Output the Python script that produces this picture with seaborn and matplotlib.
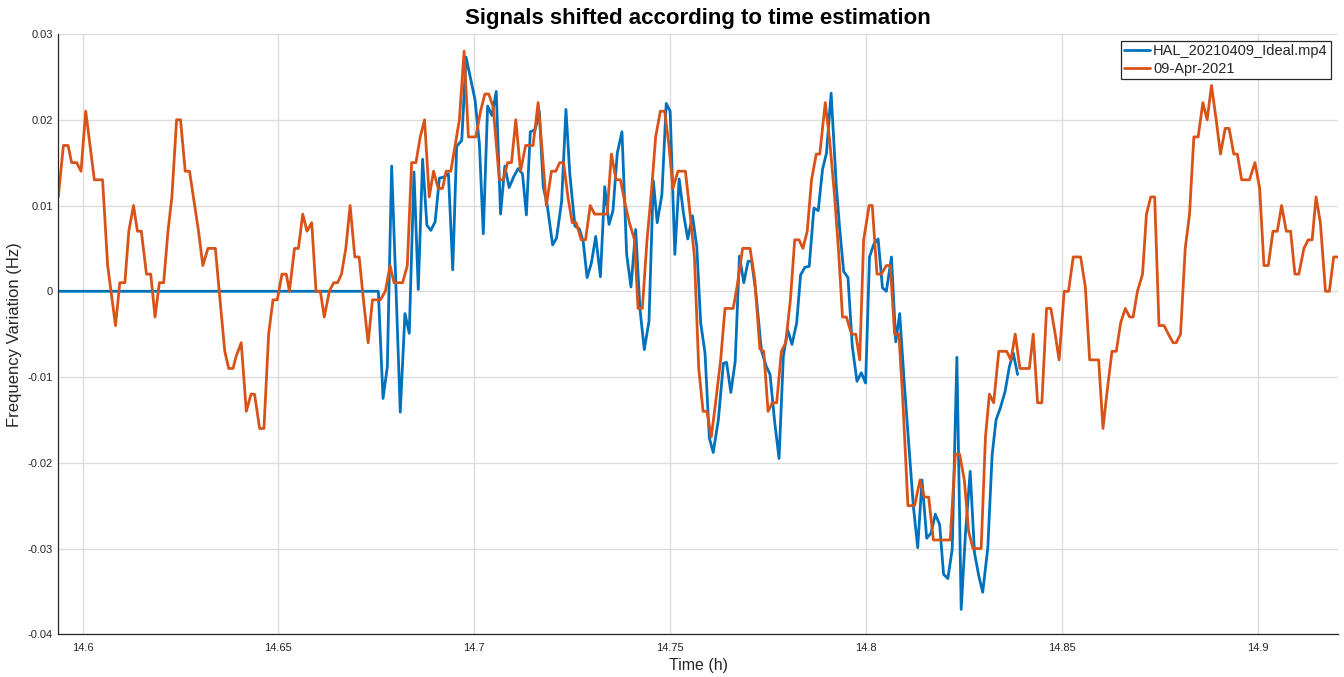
import matplotlib
matplotlib.use("Agg")
import matplotlib.pyplot as plt
import seaborn as sns

# reference signal (orange), time in hours, frequency variation in Hz
orange_t = [14.5938, 14.5951, 14.5963, 14.5972, 14.5985, 14.5996, 14.6008, 14.6030, 14.6051, 14.6064,
            14.6084, 14.6095, 14.6108, 14.6118, 14.6130, 14.6140, 14.6150, 14.6163, 14.6174, 14.6185,
            14.6196, 14.6207, 14.6218, 14.6228, 14.6240, 14.6250, 14.6262, 14.6273, 14.6286, 14.6296,
            14.6307, 14.6320, 14.6339, 14.6350, 14.6363, 14.6373, 14.6384, 14.6392, 14.6405, 14.6418,
            14.6430, 14.6439, 14.6452, 14.6463, 14.6475, 14.6486, 14.6497, 14.6509, 14.6520, 14.6528,
            14.6541, 14.6551, 14.6562, 14.6573, 14.6585, 14.6596, 14.6607, 14.6617, 14.6630, 14.6641,
            14.6651, 14.6661, 14.6672, 14.6683, 14.6695, 14.6706, 14.6717, 14.6729, 14.6740,
            14.6760, 14.6773, 14.6785, 14.6795, 14.6817, 14.6829, 14.6840, 14.6851, 14.6862, 14.6873,
            14.6885, 14.6896, 14.6908, 14.6919, 14.6928, 14.6940, 14.6951, 14.6962, 14.6974, 14.6985,
            14.7004, 14.7016, 14.7027, 14.7037, 14.7048, 14.7064, 14.7074, 14.7085, 14.7095, 14.7106,
            14.7118, 14.7131, 14.7150,
            14.7163, 14.7174, 14.7184, 14.7197, 14.7208, 14.7218, 14.7228, 14.7239, 14.7250, 14.7260,
            14.7273, 14.7284, 14.7296, 14.7307, 14.7339, 14.7350, 14.7362, 14.7373, 14.7386, 14.7396,
            14.7409, 14.7418, 14.7429, 14.7441, 14.7452, 14.7463, 14.7475, 14.7486, 14.7497, 14.7507,
            14.7520, 14.7539, 14.7551, 14.7562, 14.7573,
            14.7584, 14.7594, 14.7605, 14.7616, 14.7629, 14.7640, 14.7661, 14.7671, 14.7685, 14.7704,
            14.7716, 14.7729, 14.7739, 14.7750, 14.7761, 14.7772, 14.7784, 14.7795, 14.7807, 14.7818,
            14.7829, 14.7839, 14.7850, 14.7861, 14.7873, 14.7882, 14.7896, 14.7907, 14.7920, 14.7931,
            14.7940, 14.7950, 14.7963, 14.7974, 14.7984,
            14.7994, 14.8008, 14.8016, 14.8028, 14.8039, 14.8052, 14.8062, 14.8073, 14.8084, 14.8094,
            14.8107, 14.8124, 14.8138, 14.8149, 14.8160, 14.8172, 14.8215, 14.8228, 14.8239, 14.8251,
            14.8262, 14.8273, 14.8294, 14.8305, 14.8315, 14.8326, 14.8339,
            14.8359, 14.8370, 14.8381, 14.8393, 14.8417, 14.8427, 14.8438, 14.8449, 14.8461, 14.8472,
            14.8483, 14.8493, 14.8506, 14.8517, 14.8529, 14.8548, 14.8560, 14.8571, 14.8594, 14.8605,
            14.8616, 14.8628, 14.8639, 14.8650, 14.8662, 14.8673, 14.8682, 14.8693, 14.8706, 14.8716,
            14.8727, 14.8737, 14.8748, 14.8761, 14.8772, 14.8784, 14.8792, 14.8803, 14.8815, 14.8826,
            14.8837, 14.8848, 14.8860, 14.8871, 14.8882, 14.8894, 14.8905, 14.8917, 14.8927, 14.8939,
            14.8948, 14.8959, 14.8979, 14.8993, 14.9005, 14.9016, 14.9027, 14.9039, 14.9050, 14.9061,
            14.9073, 14.9084, 14.9095, 14.9105, 14.9118, 14.9129, 14.9139, 14.9149, 14.9160, 14.9173,
            14.9183, 14.9194, 14.9205]
orange_f = [0.011, 0.017, 0.017, 0.015, 0.015, 0.014, 0.021, 0.013, 0.013, 0.003,
            -0.004, 0.001, 0.001, 0.007, 0.010, 0.007, 0.007, 0.002, 0.002, -0.003,
            0.001, 0.001, 0.007, 0.011, 0.020, 0.020, 0.014, 0.014, 0.010, 0.007,
            0.003, 0.005, 0.005, -0.0006, -0.007, -0.009, -0.009, -0.0076, -0.006, -0.014,
            -0.012, -0.012, -0.016, -0.016, -0.005, -0.001, -0.001, 0.002, 0.002, 0.0,
            0.005, 0.005, 0.009, 0.007, 0.008, 0.0, 0.0, -0.003, 0.0, 0.001,
            0.001, 0.002, 0.005, 0.010, 0.004, 0.004, -0.001, -0.006, -0.001,
            -0.001, 0.0, 0.003, 0.001, 0.001, 0.003, 0.015, 0.015, 0.018, 0.020,
            0.011, 0.014, 0.012, 0.012, 0.014, 0.014, 0.017, 0.020, 0.028, 0.018,
            0.018, 0.021, 0.023, 0.023, 0.0215, 0.013, 0.013, 0.015, 0.015, 0.020,
            0.014, 0.017, 0.017,
            0.022, 0.016, 0.010, 0.014, 0.014, 0.015, 0.015, 0.011, 0.008, 0.008,
            0.006, 0.006, 0.010, 0.009, 0.009, 0.016, 0.013, 0.013, 0.010, 0.008,
            0.006, -0.002, -0.002, 0.006, 0.0115, 0.018, 0.021, 0.021, 0.017, 0.012,
            0.014, 0.014, 0.009, 0.004, -0.009,
            -0.014, -0.014, -0.017, -0.013, -0.008, -0.002, -0.002, 0.0006, 0.005, 0.005,
            0.0014, -0.0067, -0.007, -0.014, -0.013, -0.013, -0.007, -0.006, -0.001, 0.006,
            0.006, 0.005, 0.007, 0.013, 0.016, 0.016, 0.022, 0.0177, 0.011, 0.004,
            -0.003, -0.003, -0.005, -0.005, -0.008,
            0.006, 0.010, 0.010, 0.002, 0.002, 0.003, 0.003, -0.005, -0.005, -0.0127,
            -0.025, -0.025, -0.022, -0.024, -0.024, -0.029, -0.029, -0.019, -0.019, -0.022,
            -0.028, -0.030, -0.030, -0.017, -0.012, -0.013, -0.007,
            -0.007, -0.008, -0.005, -0.009, -0.009, -0.005, -0.013, -0.013, -0.002, -0.002,
            -0.005, -0.008, 0.0, 0.0, 0.004, 0.004, 0.0005, -0.008, -0.008, -0.016,
            -0.0115, -0.007, -0.007, -0.0037, -0.002, -0.003, -0.003, 0.0, 0.002, 0.009,
            0.011, 0.011, -0.004, -0.004, -0.005, -0.006, -0.006, -0.005, 0.005, 0.009,
            0.018, 0.018, 0.022, 0.020, 0.024, 0.020, 0.016, 0.019, 0.019, 0.016,
            0.016, 0.013, 0.013, 0.015, 0.012, 0.003, 0.003, 0.007, 0.007, 0.010,
            0.007, 0.007, 0.002, 0.002, 0.005, 0.006, 0.006, 0.011, 0.008, 0.0,
            0.0, 0.004, 0.004]

# video-derived signal (blue)
blue_t = [14.5938, 14.6755, 14.6767, 14.6778, 14.6789, 14.6800, 14.6811, 14.6823, 14.6834, 14.6846,
          14.6857, 14.6868, 14.6879, 14.6889, 14.6900, 14.6911, 14.6921, 14.6934, 14.6945, 14.6955,
          14.6968, 14.6979, 14.7002, 14.7013, 14.7023, 14.7034, 14.7045, 14.7056, 14.7067, 14.7078,
          14.7089, 14.7101, 14.7112, 14.7123, 14.7133, 14.7143, 14.7155, 14.7166, 14.7176, 14.7186,
          14.7200, 14.7210, 14.7223, 14.7234, 14.7244, 14.7257, 14.7268, 14.7278, 14.7288, 14.7299,
          14.7310, 14.7322, 14.7333, 14.7344, 14.7354, 14.7365, 14.7377, 14.7389, 14.7400, 14.7412,
          14.7423, 14.7434, 14.7446, 14.7457, 14.7467, 14.7479, 14.7490, 14.7500, 14.7512, 14.7523,
          14.7534, 14.7545, 14.7557, 14.7568, 14.7578, 14.7589, 14.7600, 14.7610, 14.7623, 14.7636,
          14.7644, 14.7655, 14.7666, 14.7677, 14.7688, 14.7699, 14.7708, 14.7719, 14.7733, 14.7745,
          14.7755, 14.7767, 14.7778, 14.7789, 14.7800, 14.7811, 14.7823, 14.7833, 14.7844, 14.7855,
          14.7867, 14.7878, 14.7889, 14.7899, 14.7911, 14.7924, 14.7933, 14.7943, 14.7954, 14.7965,
          14.7977, 14.7988, 14.7999, 14.8009, 14.8020, 14.8031, 14.8042, 14.8052, 14.8065, 14.8076,
          14.8086, 14.8098, 14.8111, 14.8121, 14.8132, 14.8143, 14.8155, 14.8166, 14.8177, 14.8188,
          14.8198, 14.8209, 14.8220, 14.8232, 14.8243, 14.8254, 14.8266, 14.8277, 14.8288, 14.8298,
          14.8311, 14.8322, 14.8332, 14.8343, 14.8355, 14.8366, 14.8376, 14.8387]
blue_f = [0.0, 0.0, -0.0125, -0.0088, 0.0146, 0.0005, -0.0141, -0.0026, -0.0049, 0.0139,
          0.0002, 0.0154, 0.0077, 0.0071, 0.0081, 0.0132, 0.0133, 0.0137, 0.0025, 0.0169,
          0.0176, 0.0273, 0.0223, 0.0172, 0.0067, 0.0216, 0.0205, 0.0233, 0.0090, 0.0146,
          0.0121, 0.0134, 0.0143, 0.0137, 0.0089, 0.0186, 0.0188, 0.0210, 0.0122, 0.0101,
          0.0054, 0.0062, 0.0105, 0.0212, 0.0136, 0.0076, 0.0073, 0.0058, 0.0016, 0.0033,
          0.0064, 0.0017, 0.0122, 0.0078, 0.0094, 0.0161, 0.0186, 0.0043, 0.0005, 0.0072,
          -0.0021, -0.0068, -0.0035, 0.0129, 0.0080, 0.0113, 0.0219, 0.0210, 0.0043, 0.0131,
          0.0091, 0.0061, 0.0088, 0.0052, -0.0037, -0.0072, -0.0171, -0.0188, -0.0150, -0.0084,
          -0.0083, -0.0118, -0.0082, 0.0041, 0.0010, 0.0035, 0.0035, -0.0002, -0.0069, -0.0087,
          -0.0097, -0.0153, -0.0195, -0.0076, -0.0045, -0.0062, -0.0037, 0.0019, 0.0028, 0.0029,
          0.0097, 0.0094, 0.0142, 0.0161, 0.0231, 0.0124, 0.0072, 0.0023, 0.0016, -0.0064,
          -0.0105, -0.0095, -0.0107, 0.0040, 0.0055, 0.0061, 0.0004, 0.0000, 0.0040, -0.0059,
          -0.0026, -0.0109, -0.0189, -0.0251, -0.0299, -0.0220, -0.0288, -0.0282, -0.0260, -0.0272,
          -0.0330, -0.0335, -0.0301, -0.0077, -0.0371, -0.0282, -0.0210, -0.0305, -0.0332, -0.0351,
          -0.0299, -0.0191, -0.0150, -0.0136, -0.0117, -0.0088, -0.0072, -0.0097]

blue_label = "HAL_20210409_Ideal.mp4"
orange_label = "09-Apr-2021"

xticks = [14.6, 14.65, 14.7, 14.75, 14.8, 14.85, 14.9]
xtick_labels = ["14.6", "14.65", "14.7", "14.75", "14.8", "14.85", "14.9"]
yticks = [-0.04, -0.03, -0.02, -0.01, 0, 0.01, 0.02, 0.03]
ytick_labels = ["-0.04", "-0.03", "-0.02", "-0.01", "0", "0.01", "0.02", "0.03"]

sns.set_style("white")
plt.rcParams["font.family"] = ["Liberation Sans", "DejaVu Sans"]
plt.rcParams["axes.unicode_minus"] = False

dark = "#262626"
fig = plt.figure(figsize=(13.44, 6.77), dpi=100)
ax = fig.add_axes([58.3 / 1344, 42.7 / 677, 1279.7 / 1344, 600.3 / 677])

sns.lineplot(x=blue_t, y=blue_f, ax=ax, color="#0072BD", lw=2, sort=False,
             estimator=None, label=blue_label)
sns.lineplot(x=orange_t, y=orange_f, ax=ax, color="#D95319", lw=2, sort=False,
             estimator=None, label=orange_label)

ax.set_xlim(14.5938, 14.9205)
ax.set_ylim(-0.04, 0.03)
ax.set_xticks(xticks)
ax.set_xticklabels(xtick_labels)
ax.set_yticks(yticks)
ax.set_yticklabels(ytick_labels)
ax.grid(True, color="#dcdcdc", lw=1)
ax.set_axisbelow(True)

for s in ["top", "right"]:
    ax.spines[s].set_visible(False)
for s in ["left", "bottom"]:
    ax.spines[s].set_color(dark)
    ax.spines[s].set_linewidth(0.9)
ax.tick_params(direction="in", length=9, width=0.9, color=dark, labelsize=8,
               labelcolor=dark)
ax.tick_params(axis="x", pad=6)
ax.tick_params(axis="y", pad=4)

ax.set_xlabel("Time (h)", fontsize=11.5, color=dark, labelpad=4)
ax.set_ylabel("Frequency Variation (Hz)", fontsize=12, color=dark, labelpad=4)
ax.set_title("Signals shifted according to time estimation", fontsize=16,
             fontweight="bold", color="black", pad=7)

leg = ax.legend(loc="upper right", fontsize=10.5, frameon=True, fancybox=False,
                edgecolor=dark, framealpha=1, borderpad=0.2, handletextpad=0.2,
                labelspacing=0.25, borderaxespad=0.5, handlelength=1.8)
leg.get_frame().set_linewidth(0.9)

plt.savefig("out.png", dpi=100)
